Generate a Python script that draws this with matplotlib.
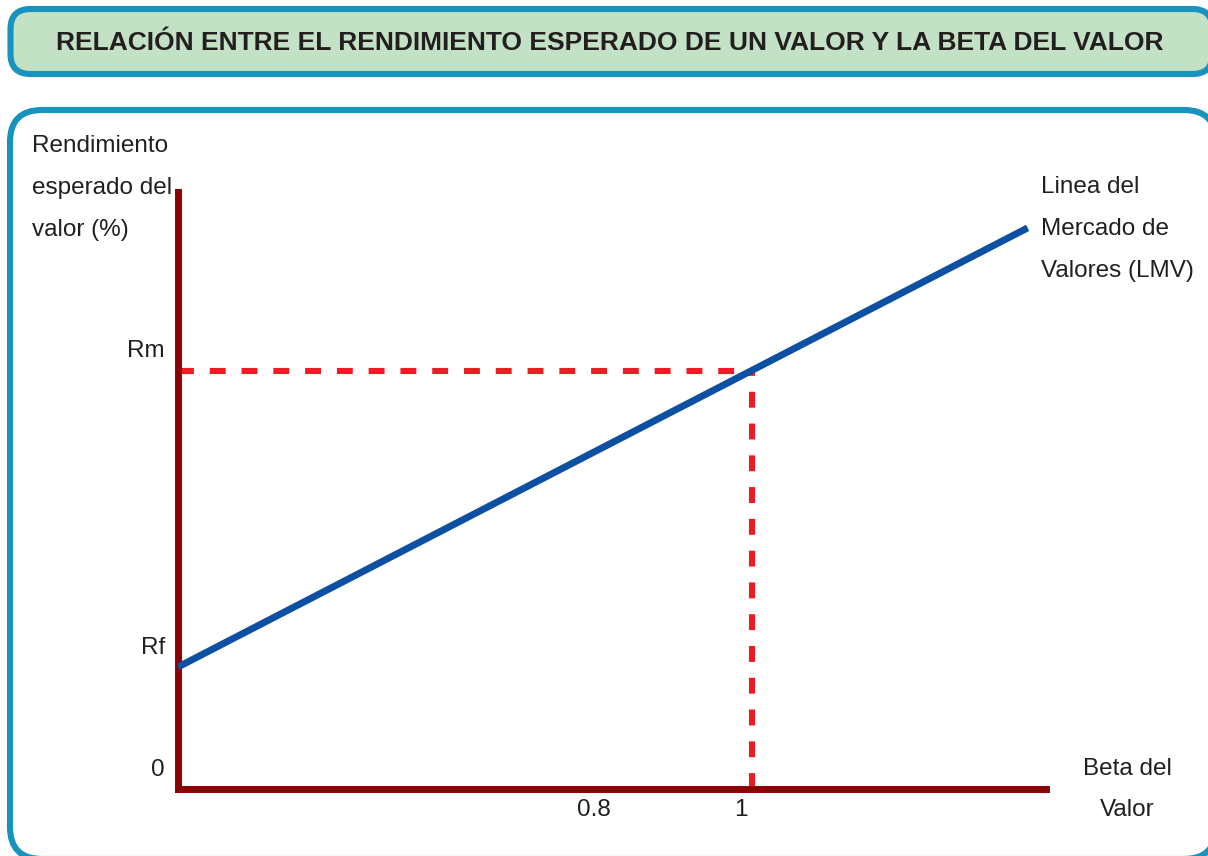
import numpy as np
import matplotlib
matplotlib.use('Agg')
import matplotlib.pyplot as plt
from matplotlib.patches import FancyBboxPatch

plt.rcParams['font.family'] = ['Liberation Sans', 'DejaVu Sans']

# Security market line data
Rf = 3.5
Rm = 12.0
lmv_beta = [0.0, 1.48]
lmv_ret = [3.5, 16.1]
beta_mkt = 1.0

y_labels = ['0', 'Rf', 'Rm']
y_label_vals = [0.0, Rf, Rm]
x_labels = ['0.8', '1']
x_label_pos = [0.725, 0.98]

title = 'RELACIÓN ENTRE EL RENDIMIENTO ESPERADO DE UN VALOR Y LA BETA DEL VALOR'

W, H = 1208, 856
fig = plt.figure(figsize=(W / 100, H / 100), dpi=100)
fig.patch.set_facecolor('white')

# background panels, in pixel units
bg = fig.add_axes([0, 0, 1, 1], zorder=0)
bg.set_xlim(0, W)
bg.set_ylim(H, 0)
bg.axis('off')

border = '#1893bd'
bw = 4.4
bg.add_patch(FancyBboxPatch((10.5, 9), 1202, 65,
                            boxstyle='round,pad=0,rounding_size=20',
                            fc='#c3e1c4', ec=border, lw=bw, clip_on=False))
bg.add_patch(FancyBboxPatch((10, 110), 1206, 749,
                            boxstyle='round,pad=0,rounding_size=32',
                            fc='white', ec=border, lw=bw, clip_on=False))
bg.text(610, 43, title, ha='center', va='center', fontsize=19,
        fontweight='bold', color='#231f20')

txt = '#231f20'
fs = 17.5
for i, s in enumerate(['Rendimiento', 'esperado del', 'valor (%)']):
    bg.text(32, 146 + 42 * i, s, ha='left', va='center', fontsize=fs, color=txt)
for i, s in enumerate(['Linea del', 'Mercado de', 'Valores (LMV)']):
    bg.text(1041, 187 + 42 * i, s, ha='left', va='center', fontsize=fs, color=txt)
for i, s in enumerate(['Beta del', 'Valor']):
    bg.text(1127, 769 + 41 * i, s, ha='center', va='center', fontsize=fs, color=txt)

# main chart axes: x from pixel 178 to 1046, y from 789 up to 192
x0, x1, y0, y1 = 178, 1046, 789, 192
ax = fig.add_axes([x0 / W, 1 - y0 / H, (x1 - x0) / W, (y0 - y1) / H], zorder=2)
ax.patch.set_alpha(0)
ax.set_xlim(0, 1.512)
ax.set_ylim(0, 17.13)
for side in ['top', 'right']:
    ax.spines[side].set_visible(False)
for side in ['left', 'bottom']:
    ax.spines[side].set_color('#8b0000')
    ax.spines[side].set_linewidth(5)
    ax.spines[side].set_capstyle('projecting')
ax.set_xticks([])
ax.set_yticks([])

ax.plot(lmv_beta, lmv_ret, color='#0d4fa2', lw=5, solid_capstyle='butt', zorder=3)

red = '#ed1c24'
ax.plot([0, beta_mkt], [Rm, Rm], color=red, lw=4.4, dashes=(2.6, 2.6), zorder=2)
ax.plot([beta_mkt, beta_mkt], [0, Rm], color=red, lw=4.4, dashes=(2.6, 2.6), zorder=2)

for s, v in zip(y_labels, y_label_vals):
    ax.annotate(s, xy=(0, v), xytext=(-9.5, 14), textcoords='offset points',
                ha='right', va='center', fontsize=fs, color=txt, annotation_clip=False)
for s, v in zip(x_labels, x_label_pos):
    ax.annotate(s, xy=(v, 0), xytext=(0, -15), textcoords='offset points',
                ha='center', va='center', fontsize=fs, color=txt, annotation_clip=False)

fig.savefig('out.png', dpi=100)
